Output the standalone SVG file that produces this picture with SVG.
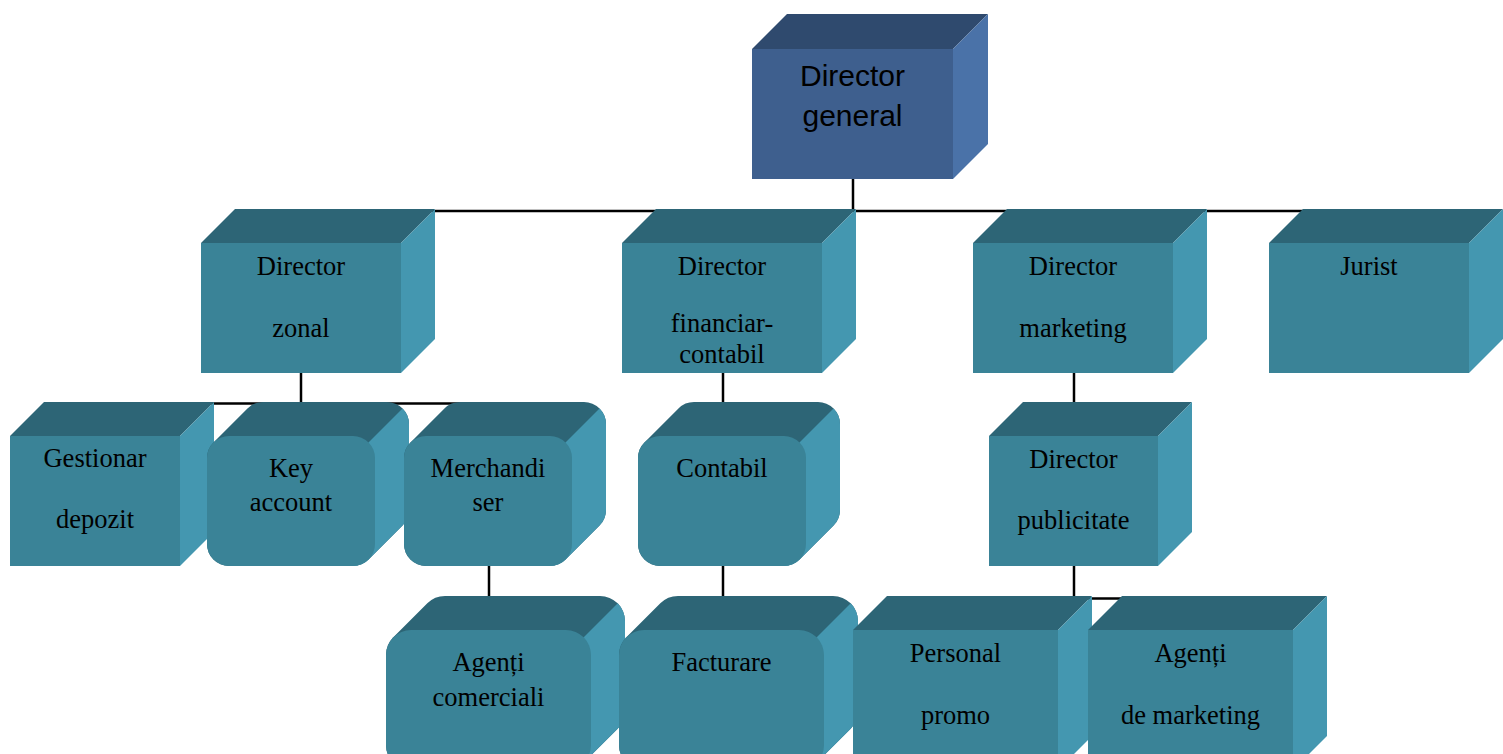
<svg xmlns="http://www.w3.org/2000/svg" xmlns:xlink="http://www.w3.org/1999/xlink" width="1503" height="754" viewBox="0 0 1503 754">
<style>
.f{fill:#3A8397}.t{fill:#2D6576}.r{fill:#4497B0}
.fb{fill:#3E5F8E}.tb{fill:#2F4A6E}.rb{fill:#4A72A8}
.lbl{font-family:"Liberation Serif","Times New Roman",serif;font-size:26.5px;fill:#000;text-anchor:middle}
.lbls{font-family:"Liberation Sans",Arial,sans-serif;font-size:30px;fill:#000;text-anchor:middle}
#connectors line{stroke:#000;stroke-width:2.5}
</style>
<defs>
<path id="rs2" d="M6.44,6.44 L40.44,-27.56 A22,22 0 0 1 56,-34 L180,-34 A22,22 0 0 1 202,-12 L202,74 A22,22 0 0 1 195.56,89.56 L161.56,123.56 A22,22 0 0 1 146,130 L22,130 A22,22 0 0 1 0,108 L0,22 A22,22 0 0 1 6.44,6.44 Z"/>
<clipPath id="rc2" clipPathUnits="userSpaceOnUse"><polygon points="118,50 252,-84 252,200 118,200"/></clipPath>
<path id="rs3" d="M7.32,7.32 L41.32,-26.68 A25,25 0 0 1 59,-34 L214,-34 A25,25 0 0 1 239,-9 L239,81 A25,25 0 0 1 231.68,98.68 L197.68,132.68 A25,25 0 0 1 180,140 L25,140 A25,25 0 0 1 0,115 L0,25 A25,25 0 0 1 7.32,7.32 Z"/>
<clipPath id="rc3" clipPathUnits="userSpaceOnUse"><polygon points="155,50 289,-84 289,220 155,220"/></clipPath>
</defs>
<rect width="1503" height="754" fill="#fff"/>
<g id="connectors">
<line x1="853" y1="179" x2="853" y2="211"/>
<line x1="301" y1="211" x2="1369" y2="211"/>
<line x1="301" y1="373" x2="301" y2="403.5"/>
<line x1="95" y1="403.5" x2="489" y2="403.5"/>
<line x1="489" y1="566" x2="489" y2="597"/>
<line x1="723" y1="373" x2="723" y2="402"/>
<line x1="723" y1="566" x2="723" y2="597"/>
<line x1="1074" y1="373" x2="1074" y2="402"/>
<line x1="1074" y1="566" x2="1074" y2="598.5"/>
<line x1="956" y1="598.5" x2="1190" y2="598.5"/>
</g>
<g id="director-general" transform="translate(752,49)">
<polygon class="tb" points="0,0 35,-35 236,-35 201,0"/>
<polygon class="rb" points="201,0 236,-35 236,95 201,130"/>
<rect class="fb" width="201" height="130"/>
<text class="lbls" x="100.5" y="37">Director</text>
<text class="lbls" x="100.5" y="77">general</text>
</g>
<g id="director-zonal" transform="translate(201,243)">
<polygon class="t" points="0,0 34,-34 234,-34 200,0"/>
<polygon class="r" points="200,0 234,-34 234,96 200,130"/>
<rect class="f" width="200" height="130"/>
<text class="lbl" x="100" y="32">Director</text>
<text class="lbl" x="100" y="94">zonal</text>
</g>
<g id="director-financiar" transform="translate(622,243)">
<polygon class="t" points="0,0 34,-34 234,-34 200,0"/>
<polygon class="r" points="200,0 234,-34 234,96 200,130"/>
<rect class="f" width="200" height="130"/>
<text class="lbl" x="100" y="32">Director</text>
<text class="lbl" x="100" y="89">financiar-</text>
<text class="lbl" x="100" y="120">contabil</text>
</g>
<g id="director-marketing" transform="translate(973,243)">
<polygon class="t" points="0,0 34,-34 234,-34 200,0"/>
<polygon class="r" points="200,0 234,-34 234,96 200,130"/>
<rect class="f" width="200" height="130"/>
<text class="lbl" x="100" y="32">Director</text>
<text class="lbl" x="100" y="94">marketing</text>
</g>
<g id="jurist" transform="translate(1269,243)">
<polygon class="t" points="0,0 34,-34 234,-34 200,0"/>
<polygon class="r" points="200,0 234,-34 234,96 200,130"/>
<rect class="f" width="200" height="130"/>
<text class="lbl" x="100" y="32">Jurist</text>
</g>
<g id="gestionar" transform="translate(10,436)">
<polygon class="t" points="0,0 34,-34 204,-34 170,0"/>
<polygon class="r" points="170,0 204,-34 204,96 170,130"/>
<rect class="f" width="170" height="130"/>
<text class="lbl" x="85" y="31">Gestionar</text>
<text class="lbl" x="85" y="92">depozit</text>
</g>
<g id="key-account" transform="translate(207,436)">
<use xlink:href="#rs2" class="t"/>
<use xlink:href="#rs2" class="r" clip-path="url(#rc2)"/>
<rect class="f" width="168" height="130" rx="22"/>
<text class="lbl" x="84" y="41">Key</text>
<text class="lbl" x="84" y="75">account</text>
</g>
<g id="merchandiser" transform="translate(404,436)">
<use xlink:href="#rs2" class="t"/>
<use xlink:href="#rs2" class="r" clip-path="url(#rc2)"/>
<rect class="f" width="168" height="130" rx="22"/>
<text class="lbl" x="84" y="41">Merchandi</text>
<text class="lbl" x="84" y="75">ser</text>
</g>
<g id="contabil" transform="translate(638,436)">
<use xlink:href="#rs2" class="t"/>
<use xlink:href="#rs2" class="r" clip-path="url(#rc2)"/>
<rect class="f" width="168" height="130" rx="22"/>
<text class="lbl" x="84" y="41">Contabil</text>
</g>
<g id="director-publicitate" transform="translate(989,436)">
<polygon class="t" points="0,0 34,-34 203,-34 169,0"/>
<polygon class="r" points="169,0 203,-34 203,96 169,130"/>
<rect class="f" width="169" height="130"/>
<text class="lbl" x="84.5" y="32">Director</text>
<text class="lbl" x="84.5" y="93">publicitate</text>
</g>
<g id="agenti-comerciali" transform="translate(386,630)">
<use xlink:href="#rs3" class="t"/>
<use xlink:href="#rs3" class="r" clip-path="url(#rc3)"/>
<rect class="f" width="205" height="140" rx="25"/>
<text class="lbl" x="102.5" y="41">Agenți</text>
<text class="lbl" x="102.5" y="76">comerciali</text>
</g>
<g id="facturare" transform="translate(619,630)">
<use xlink:href="#rs3" class="t"/>
<use xlink:href="#rs3" class="r" clip-path="url(#rc3)"/>
<rect class="f" width="205" height="140" rx="25"/>
<text class="lbl" x="102.5" y="41">Facturare</text>
</g>
<g id="personal-promo" transform="translate(853,630)">
<polygon class="t" points="0,0 34,-34 239,-34 205,0"/>
<polygon class="r" points="205,0 239,-34 239,106 205,140"/>
<rect class="f" width="205" height="140"/>
<text class="lbl" x="102.5" y="32">Personal</text>
<text class="lbl" x="102.5" y="94">promo</text>
</g>
<g id="agenti-marketing" transform="translate(1088,630)">
<polygon class="t" points="0,0 34,-34 239,-34 205,0"/>
<polygon class="r" points="205,0 239,-34 239,106 205,140"/>
<rect class="f" width="205" height="140"/>
<text class="lbl" x="102.5" y="32">Agenți</text>
<text class="lbl" x="102.5" y="94">de marketing</text>
</g>
</svg>
